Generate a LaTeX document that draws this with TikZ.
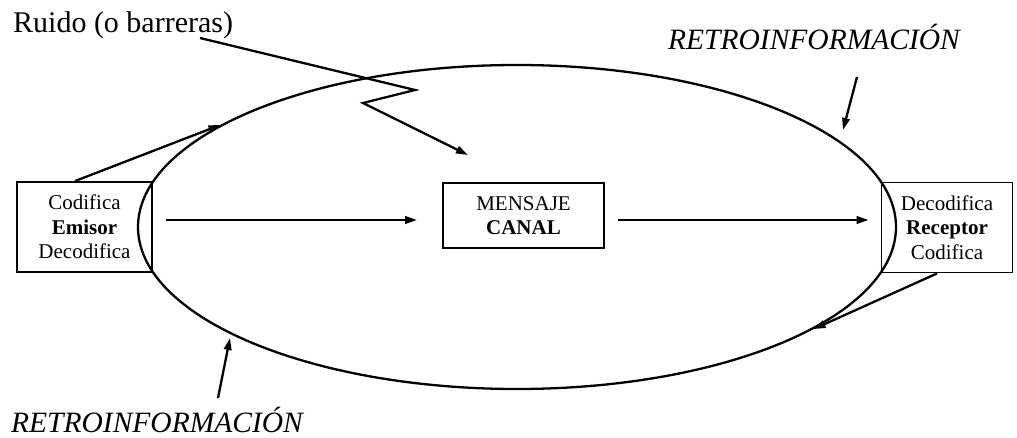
\documentclass[tikz,border=0pt]{standalone}
\usepackage{fontspec}
\setmainfont{Liberation Serif}
\usetikzlibrary{arrows.meta,shapes.geometric}
\begin{document}
\begin{tikzpicture}[x=1pt,y=-1pt,
  line width=2.3pt,
  tip/.style={-{Triangle[length=12pt,width=7.5pt]}},
  box/.style={draw,line width=1.9pt,align=center,inner sep=0pt,
    font=\fontsize{21}{24.5}\selectfont},
  label/.style={font=\fontsize{29.5}{32}\selectfont\itshape,inner sep=0pt}]
\useasboundingbox (0,0) rectangle (1017,438);

% the communication loop
\node[draw,ellipse,minimum width=758pt,minimum height=324pt,inner sep=0pt] (loop) at (517,227) {};

% sender, message and receiver
\node[box,minimum width=135pt,minimum height=90pt] (emisor) at (84.5,227)
  {Codifica\\\textbf{Emisor}\\Decodifica};
\node[box,minimum width=161pt,minimum height=65pt] (mensaje) at (523.5,215.5)
  {MENSAJE\\\textbf{CANAL}};
\node[box,minimum width=131pt,minimum height=90pt] (receptor) at (947,227.5)
  {Decodifica\\\textbf{Receptor}\\Codifica};

\draw[tip] ([xshift=13pt,yshift=7pt]emisor.east) -- ([xshift=-25pt,yshift=-4.5pt]mensaje.west);
\draw[tip] ([xshift=13pt,yshift=-4.5pt]mensaje.east) -- ([xshift=-12pt,yshift=7.5pt]receptor.west);

% noise
\node[anchor=base west,inner sep=0pt,font=\fontsize{30}{32}\selectfont] (ruido) at (12,33) {Ruido (o barreras)};
\coordinate (n0) at (200,38);
\coordinate (n1) at (415,90);
\coordinate (n2) at (363,103);
\coordinate (n3) at (468,155);
\draw[tip] (n0) -- (n1) -- (n2) -- (n3);

% feedback
\draw[tip] ([xshift=-9.5pt]emisor.north) -- (loop.161);
\draw[tip] ([xshift=-10pt]receptor.south) -- (loop.-19);

\node[label,anchor=base] (retroA) at (814,50) {RETROINFORMACIÓN};
\node[label,anchor=base] (retroB) at (157,432) {RETROINFORMACIÓN};
\coordinate (ta) at (857,77);
\coordinate (tb) at (843,130);
\coordinate (ba) at (218,398);
\coordinate (bb) at (230,338);
\draw[tip] (ta) -- (tb);
\draw[tip] (ba) -- (bb);
\end{tikzpicture}
\end{document}
